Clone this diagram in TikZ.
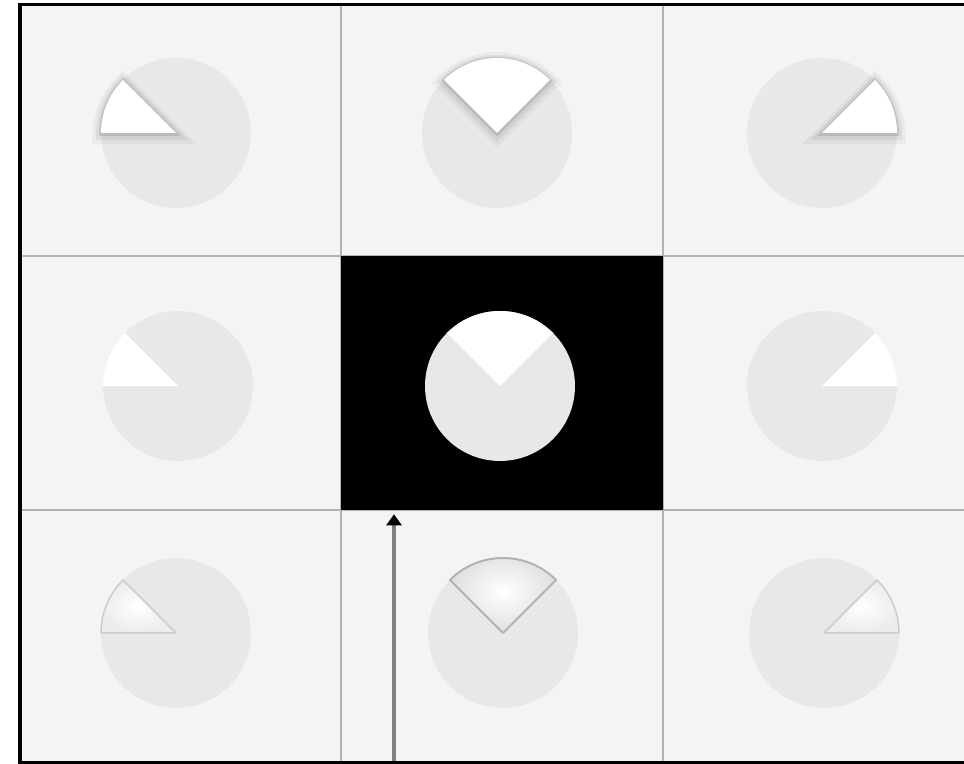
\documentclass[tikz,border=0pt]{standalone}
\usepackage{tikz}
\usetikzlibrary{arrows.meta,positioning,calc}
\definecolor{cellbg}{HTML}{F4F4F4}
\definecolor{piegray}{HTML}{E8E8E8}
\definecolor{gridgray}{HTML}{B2B2B2}
\definecolor{stemgray}{HTML}{7F7F7F}

\begin{document}
\begin{tikzpicture}[x=0.02cm, y=0.02cm,
  pie/.style={circle, fill=piegray, minimum size=3cm, inner sep=0pt},
  midcell/.style={fill=black, minimum width=6.44cm, minimum height=5.08cm, inner sep=0pt},
  gridln/.style={draw=gridgray, line width=0.04cm},
  frame/.style={draw=black, line width=0.07cm},
  raised/.style={fill=white, line join=round,
    preaction={draw=black, draw opacity=0.04, line width=0.34cm, transform canvas={yshift=-1.5pt}},
    preaction={draw=black, draw opacity=0.06, line width=0.2cm, transform canvas={yshift=-1pt}},
    preaction={draw=black, draw opacity=0.1, line width=0.08cm, transform canvas={yshift=-0.5pt}}},
  flat/.style={fill=white},
  sunken/.style={inner color=white, outer color=gray!25, draw=gray!60, line width=0.04cm, line join=round},
  faint/.style={inner color=white, outer color=gray!15, draw=gray!40, line width=0.03cm, line join=round},
  arr/.style={-{Triangle[length=0.22cm, width=0.3cm, color=black]}, draw=stemgray, line width=0.08cm}
]
  \useasboundingbox (0,0) rectangle (964,764);
  \fill[white] (0,0) rectangle (964,764);
  \fill[cellbg] (20,1) rectangle (964,759);

  % grid
  \draw[gridln] (341,1) -- (341,759);
  \draw[gridln] (663,1) -- (663,759);
  \draw[gridln] (20,508) -- (964,508);
  \draw[gridln] (20,254) -- (964,254);

  \node[midcell] (mid) at (502,381) {};

  % pies, top row
  \node[pie] (p11) at (176,631) {};
  \node[pie] (p12) at (497,631) {};
  \node[pie] (p13) at (822,631) {};
  \path[raised] (p11.center) -- ++(180:75) arc[start angle=180, end angle=135, radius=75] -- cycle;
  \path[raised] (p12.center) -- ++(45:75) arc[start angle=45, end angle=135, radius=75] -- cycle;
  \path[raised] (p13.center) -- ++(0:75) arc[start angle=0, end angle=45, radius=75] -- cycle;

  % pies, middle row
  \node[pie] (p21) at (178,378) {};
  \node[pie] (p22) at (500,378) {};
  \node[pie] (p23) at (822,378) {};
  \path[flat] (p21.center) -- ++(180:75) arc[start angle=180, end angle=135, radius=75] -- cycle;
  \path[flat] (p22.center) -- ++(45:75) arc[start angle=45, end angle=135, radius=75] -- cycle;
  \path[flat] (p23.center) -- ++(0:75) arc[start angle=0, end angle=45, radius=75] -- cycle;

  % pies, bottom row
  \node[pie] (p31) at (176,131) {};
  \node[pie] (p32) at (503,131) {};
  \node[pie] (p33) at (824,131) {};
  \shadedraw[faint] (p31.center) -- ++(180:75) arc[start angle=180, end angle=135, radius=75] -- cycle;
  \shadedraw[sunken] (p32.center) -- ++(45:75) arc[start angle=45, end angle=135, radius=75] -- cycle;
  \shadedraw[faint] (p33.center) -- ++(0:75) arc[start angle=0, end angle=45, radius=75] -- cycle;

  % pointer
  \coordinate (base) at (394,0);
  \draw[arr] (base) -- ($(base |- mid.south)+(0,-4)$);

  % frame
  \draw[frame] (964,759.5) -- (20,759.5) -- (20,1) -- (964,1);
\end{tikzpicture}
\end{document}
